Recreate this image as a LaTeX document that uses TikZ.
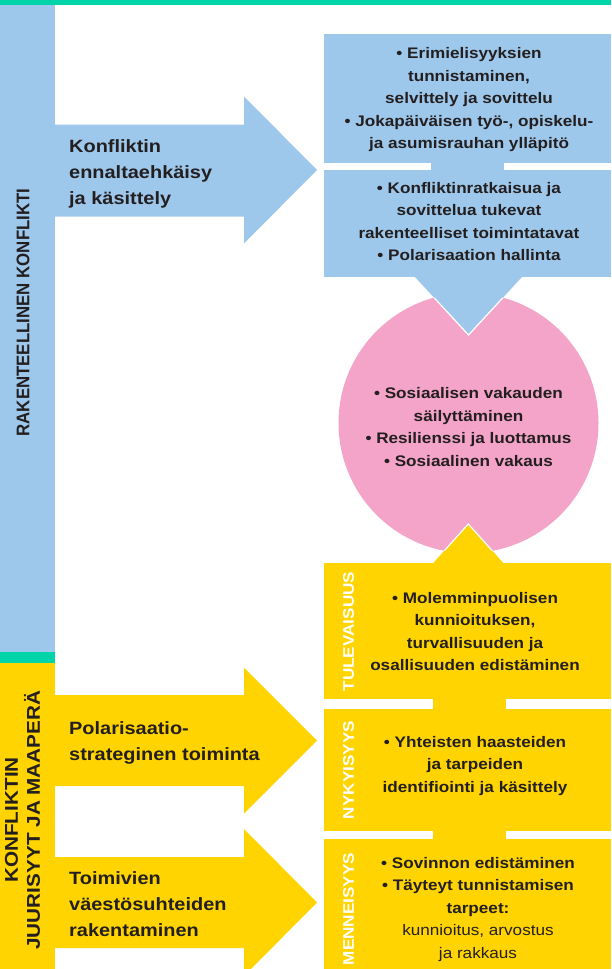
\documentclass[tikz,border=0pt]{standalone}
\usepackage{fontspec}
\setmainfont[FakeStretch=1.12]{Liberation Sans}
\newfontfamily\capsfont[FakeStretch=0.92]{Liberation Sans}
\definecolor{cblue}{RGB}{158,200,235}
\definecolor{cyellow}{RGB}{255,212,0}
\definecolor{cpink}{RGB}{244,164,200}
\definecolor{cgreen}{RGB}{0,212,168}
\definecolor{ctext}{RGB}{35,31,32}
\tikzset{
  boxtext/.style={align=center, text=ctext, inner sep=0pt, font=\bfseries\fontsize{15.3}{22.5}\selectfont},
  arrowtext/.style={align=left, text=ctext, inner sep=0pt, anchor=west, font=\bfseries\fontsize{17.8}{26}\selectfont},
  vlabel/.style={rotate=90, text=white, inner sep=0pt, font=\bfseries\fontsize{15.3}{18}\selectfont},
  barlabel/.style={rotate=90, align=center, text=ctext, inner sep=0pt},
  edgeline/.style={white, line width=1.2pt}
}
\begin{document}
\begin{tikzpicture}[x=1pt,y=-1pt]
\useasboundingbox (0,0) rectangle (611,969);
\begin{scope}
\clip (0,0) rectangle (611,969);
% top strip and left bar
\fill[cgreen] (0,0) rectangle (611,4.7);
\fill[cblue] (0,4.7) rectangle (55,651.7);
\fill[cgreen] (0,651.7) rectangle (55,662.7);
\fill[cyellow] (0,662.7) rectangle (55,969);
% left arrows
\fill[cblue] (54,124.5) -- (244,124.5) -- (244,96.5) -- (317,170) -- (244,243.5) -- (244,216.5) -- (54,216.5) -- cycle;
\fill[cyellow] (54,695) -- (244,695) -- (244,667.5) -- (317,740.5) -- (244,813.5) -- (244,786) -- (54,786) -- cycle;
\fill[cyellow] (54,857) -- (244,857) -- (244,829) -- (317,902.5) -- (244,976) -- (244,948) -- (54,948) -- cycle;
% circle
\fill[cpink] (468.5,423) circle[radius=130];
% triangles
\fill[cblue] (415,277) -- (468.5,335) -- (522,277) -- cycle;
\fill[cyellow] (433.3,563) -- (468.3,524) -- (503.3,563) -- cycle;
\begin{scope}
\clip (468.5,423) circle[radius=130];
\draw[edgeline] (415,277) -- (468.5,335) -- (522,277);
\draw[edgeline] (433.3,563) -- (468.3,524) -- (503.3,563);
\end{scope}
% blue boxes
\fill[cblue] (324,34) rectangle (611,163);
\fill[cblue] (430.7,162) rectangle (504,171);
\fill[cblue] (324,170) rectangle (611,277.3);
% yellow boxes
\fill[cyellow] (324,563) rectangle (611,699.3);
\fill[cyellow] (433.3,698) rectangle (506,710);
\fill[cyellow] (324,709.3) rectangle (611,830.7);
\fill[cyellow] (433.3,829.5) rectangle (506,840.5);
\fill[cyellow] (324,839.3) rectangle (611,969);
\end{scope}
% bar labels
\node[barlabel, font=\capsfont\bfseries\fontsize{18.3}{22}\selectfont] (rk) at (23,312.5) {RAKENTEELLINEN KONFLIKTI};
\node[barlabel, font=\bfseries\fontsize{18.5}{22}\selectfont] (jm) at (22.5,820) {KONFLIKTIN\\JUURISYYT JA MAAPERÄ};
% arrow labels
\node[arrowtext] (a1) at (69,174) {Konfliktin\\ennaltaehkäisy\\ja käsittely};
\node[arrowtext] (a2) at (69,743) {Polarisaatio-\\strateginen toiminta};
\node[arrowtext] (a3) at (69,904) {Toimivien\\väestösuhteiden\\rakentaminen};
% box texts
\node[boxtext] (t1) at (469,100) {• Erimielisyyksien\\tunnistaminen,\\selvittely ja sovittelu\\• Jokapäiväisen työ-, opiskelu-\\ja asumisrauhan ylläpitö};
\node[boxtext] (t2) at (469,221.5) {• Konfliktinratkaisua ja\\sovittelua tukevat\\rakenteelliset toimintatavat\\• Polarisaation hallinta};
\node[boxtext] (tc) at (468.5,427) {• Sosiaalisen vakauden\\säilyttäminen\\• Resilienssi ja luottamus\\• Sosiaalinen vakaus};
\node[boxtext] (tf) at (475,631.7) {• Molemminpuolisen\\kunnioituksen,\\turvallisuuden ja\\osallisuuden edistäminen};
\node[boxtext] (tn) at (475,765.6) {• Yhteisten haasteiden\\ja tarpeiden\\identifiointi ja käsittely};
\node[boxtext] (tm) at (478,909.4) {• Sovinnon edistäminen\\• Täyteyt tunnistamisen\\tarpeet:\\{\mdseries kunnioitus, arvostus}\\{\mdseries ja rakkaus}};
% vertical labels in boxes
\node[vlabel] (lf) at (348.5,631.5) {TULEVAISUUS};
\node[vlabel] (ln) at (348.5,770) {NYKYISYYS};
\node[vlabel] (lm) at (348.5,909) {MENNEISYYS};
\end{tikzpicture}
\end{document}
